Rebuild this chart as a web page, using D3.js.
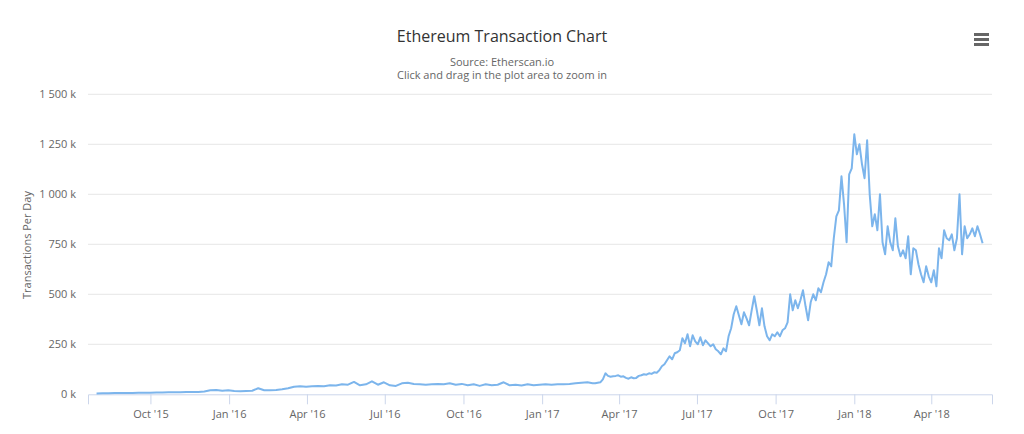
<!DOCTYPE html>
<html>
<head>
<meta charset="utf-8">
<script src="https://cdn.jsdelivr.net/npm/d3@7"></script>
<style>
  body { margin: 0; background: #fff; }
  text { font-family: "Open Sans", "DejaVu Sans", sans-serif; }
</style>
</head>
<body>
<div id="chart"></div>
<script>
// weekly readings (k tx/day) from launch, Jul 30 2015
const earlyStart = new Date(2015, 6, 30);
const earlyValues = [4,5,5,6, 6,7,7,8, 8,8,9,9,10, 10,10,11,12, 12,14,20,22,18,
  20,16,15,17, 18,30,20,20, 22,25,30,38,40, 38,40,42,40, 45,44,50,48, 62,45,50,65,48,
  60,45,42,55, 58,52,50,48,50, 52,50,55,48, 52,45,50,42, 50,45,48,60,45, 48,44,50,45,
  48,50,48,50, 50,52,55,58, 60];
// every 3 days from Mar 1 2017
const lateStart = new Date(2017, 2, 1);
const lateValues = [55,55,58,60,75,105,92,88,90,92,95,88,90,82,78,85,80,82,92,95,
  100,98,105,102,110,108,120,140,150,170,190,175,205,210,220,280,255,300,240,295,
  265,250,285,245,270,255,240,250,225,215,200,230,215,290,330,400,440,395,350,410,
  380,345,420,490,420,345,430,340,290,270,300,290,310,290,320,330,360,500,420,470,
  430,470,520,440,370,460,500,470,530,510,560,600,660,640,780,890,920,1090,950,760,
  1100,1130,1300,1200,1250,1150,1080,1270,1000,840,900,820,1000,760,700,840,760,720,880,740,
  690,720,680,790,600,730,720,650,600,560,640,590,560,620,540,730,680,820,780,770,
  800,720,780,1000,700,840,780,800,830,790,840,800,755];
const yTicks = [0, 250, 500, 750, 1000, 1250, 1500];
const xTickDates = [new Date(2015,9,1), new Date(2016,0,1), new Date(2016,3,1), new Date(2016,6,1),
  new Date(2016,9,1), new Date(2017,0,1), new Date(2017,3,1), new Date(2017,6,1),
  new Date(2017,9,1), new Date(2018,0,1), new Date(2018,3,1)];

const data = earlyValues.map((v, i) => ({ date: d3.timeDay.offset(earlyStart, i * 7), value: v }))
  .concat(lateValues.map((v, i) => ({ date: d3.timeDay.offset(lateStart, i * 3), value: v })));

const width = 1024, height = 434;
const svg = d3.select("#chart").append("svg").attr("width", width).attr("height", height);

const x = d3.scaleTime()
  .domain([new Date(2015, 6, 20), new Date(2018, 5, 11)])
  .range([88, 992]);
const y = d3.scaleLinear().domain([0, 1500]).range([394.3, 94.3]);

const fmt = v => d3.format(",")(v).replace(/,/g, " ") + " k";
const monthFmt = d3.timeFormat("%b '%y");

// grid
svg.append("g").selectAll("line").data(yTicks.slice(1)).enter().append("line")
  .attr("x1", 88).attr("x2", 992)
  .attr("y1", d => y(d)).attr("y2", d => y(d))
  .attr("stroke", "#e6e6e6");

// y labels
svg.append("g").selectAll("text").data(yTicks).enter().append("text")
  .attr("x", 76).attr("y", d => y(d) + 4)
  .attr("text-anchor", "end").attr("font-size", 11).attr("fill", "#666")
  .text(fmt);

svg.append("text")
  .attr("transform", "translate(31,245) rotate(-90)")
  .attr("text-anchor", "middle").attr("font-size", 11).attr("fill", "#666")
  .text("Transactions Per Day");

// x axis
const xAxis = svg.append("g").attr("transform", "translate(0," + y(0) + ")")
  .call(d3.axisBottom(x).tickValues(xTickDates).tickFormat(monthFmt).tickSize(10).tickPadding(6));
xAxis.select(".domain").attr("stroke", "#ccd6eb");
xAxis.selectAll(".tick line").attr("stroke", "#ccd6eb");
xAxis.selectAll(".tick text").attr("fill", "#666").attr("font-size", 11)
  .attr("font-family", "'Open Sans', sans-serif");

// line
svg.append("path").datum(data)
  .attr("fill", "none").attr("stroke", "#7cb5ec").attr("stroke-width", 2)
  .attr("stroke-linejoin", "round")
  .attr("d", d3.line().x(d => x(d.date)).y(d => y(d.value)));

// titles
svg.append("text").attr("x", 502).attr("y", 42).attr("text-anchor", "middle")
  .attr("font-size", 16).attr("fill", "#333").text("Ethereum Transaction Chart");
svg.append("text").attr("x", 502).attr("y", 66).attr("text-anchor", "middle")
  .attr("font-size", 11).attr("fill", "#666").text("Source: Etherscan.io");
svg.append("text").attr("x", 502).attr("y", 79).attr("text-anchor", "middle")
  .attr("font-size", 11).attr("fill", "#666").text("Click and drag in the plot area to zoom in");

// menu icon
svg.append("g").selectAll("rect").data([0, 1, 2]).enter().append("rect")
  .attr("x", 974).attr("y", d => 33 + d * 5).attr("width", 15).attr("height", 3)
  .attr("fill", "#666");
</script>
</body>
</html>
